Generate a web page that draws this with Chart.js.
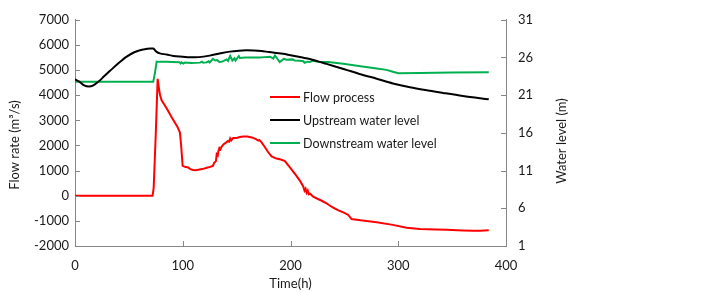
<!DOCTYPE html>
<html>
<head>
<meta charset="utf-8">
<script src="https://cdn.jsdelivr.net/npm/chart.js@4/dist/chart.umd.min.js"></script>
<style>
  html, body { margin: 0; padding: 0; background: #fff; }
</style>
</head>
<body>
<canvas id="chart" width="722" height="292"></canvas>
<script>
// Flow process (m3/s) against time (h)
const flowTime = [0, 72, 73, 75, 76.7, 77.5, 78.2, 79, 80.4, 85, 90, 95, 97.4, 98.5, 99.9, 102, 105, 107, 109.7, 112, 118, 124, 128, 129, 130.8, 131.5, 132.5, 133, 134, 135, 136, 138, 140.7, 142, 143, 144, 145, 146.8, 150, 153, 156, 160, 164, 168, 170, 171, 173, 176, 179, 182.4, 187, 191, 194.8, 200, 205, 209, 211.8, 213, 214, 215, 216, 217, 218, 221, 225, 229, 233.4, 236, 240, 244, 250, 253.6, 256.7, 265, 280, 295, 307.7, 320, 335, 344.8, 360, 369.5, 376, 384];
const flowValues = [0, 0, 300, 2500, 4650, 4400, 4175, 4000, 3797, 3480, 3100, 2750, 2511, 2000, 1188, 1150, 1127, 1060, 1025, 1010, 1060, 1130, 1188, 1300, 1377, 1650, 1600, 1755, 1900, 1850, 1944, 2050, 2133, 2180, 2150, 2280, 2200, 2299, 2300, 2340, 2360, 2355, 2320, 2250, 2197, 2220, 2133, 1950, 1750, 1566, 1479, 1440, 1377, 1100, 820, 580, 370, 200, 280, 117, 200, 60, 90, -34, -120, -200, -300, -380, -480, -575, -680, -764, -930, -980, -1055, -1160, -1270, -1320, -1345, -1358, -1380, -1396, -1390, -1370];

// Upstream water level (m)
const upTime = [0, 4, 8, 13, 17, 21.6, 27, 32.5, 40, 48, 55, 60.3, 66, 70, 72.6, 74, 75.8, 78.8, 85, 91.2, 100, 106.7, 115, 125, 135, 143.8, 152, 159, 166, 173, 180, 187, 193, 200, 210, 218, 225, 233.5, 250, 264, 280, 295, 310.8, 325, 341.6, 360, 384];
const upLevel = [23.1, 22.8, 22.35, 22.14, 22.3, 22.77, 23.5, 24.23, 25.2, 26.12, 26.7, 26.97, 27.12, 27.2, 27.18, 27.0, 26.75, 26.55, 26.4, 26.21, 26.1, 26.02, 26.05, 26.25, 26.55, 26.78, 26.9, 26.95, 26.93, 26.86, 26.72, 26.6, 26.5, 26.3, 26.02, 25.8, 25.52, 25.15, 24.45, 23.82, 23.18, 22.56, 22.05, 21.68, 21.3, 20.9, 20.45];

// Downstream water level (m)
const downTime = [0, 72.6, 74, 75.8, 78, 85, 90, 97, 98, 99, 100.5, 102, 108, 116, 118, 119, 122, 124, 125, 128, 130, 132, 134, 136, 138, 140.7, 142, 144, 146, 148, 149, 152, 153, 158, 165, 171.6, 176, 181, 184, 185.5, 187, 190, 194, 196, 202, 204, 208.7, 212, 213, 216, 218, 221, 225, 235, 249, 265, 280, 289, 295, 300, 320, 350, 384];
const downLevel = [22.8, 22.8, 23.8, 25.45, 25.42, 25.42, 25.4, 25.38, 25.2, 25.35, 25.2, 25.32, 25.26, 25.32, 25.45, 25.3, 25.35, 25.5, 25.35, 25.83, 25.6, 25.65, 25.4, 25.42, 25.55, 25.75, 25.55, 26.2, 25.6, 25.9, 25.6, 26.2, 25.95, 26.0, 26.0, 26.0, 26.05, 26.1, 25.85, 26.25, 26.0, 25.4, 25.85, 25.7, 25.75, 25.6, 25.58, 25.5, 25.3, 25.45, 25.42, 25.58, 25.45, 25.4, 25.17, 24.85, 24.55, 24.36, 24.1, 23.9, 23.95, 24.0, 24.03];

const seriesNames = ['Flow process', 'Upstream water level', 'Downstream water level'];
const leftTitle = 'Flow rate (m³/s)';
const rightTitle = 'Water level (m)';

const FONT = 'Lato';
const AXIS_COLOR = '#868686';
const TEXT_COLOR = '#1a1a1a';

const pts = (xs, ys) => xs.map((x, i) => ({ x: x, y: ys[i] }));
const plain = v => String(v);

// short tick marks pointing into the plot, plus the two vertical axis titles
const innerTicks = {
  id: 'innerTicks',
  afterDraw(chart) {
    const ctx = chart.ctx;
    const a = chart.chartArea;
    ctx.save();
    ctx.strokeStyle = AXIS_COLOR;
    ctx.lineWidth = 1;
    ctx.beginPath();
    chart.scales.x.ticks.forEach(t => {
      const px = Math.round(chart.scales.x.getPixelForValue(t.value)) + 0.5;
      ctx.moveTo(px, a.bottom);
      ctx.lineTo(px, a.bottom - 5);
    });
    chart.scales.y.ticks.forEach(t => {
      const py = Math.round(chart.scales.y.getPixelForValue(t.value)) + 0.5;
      ctx.moveTo(a.left, py);
      ctx.lineTo(a.left + 5, py);
    });
    chart.scales.y1.ticks.forEach(t => {
      const py = Math.round(chart.scales.y1.getPixelForValue(t.value)) + 0.5;
      ctx.moveTo(a.right, py);
      ctx.lineTo(a.right - 5, py);
    });
    ctx.stroke();

    ctx.fillStyle = TEXT_COLOR;
    ctx.font = '13px ' + FONT;
    ctx.textAlign = 'center';
    ctx.textBaseline = 'middle';
    ctx.translate(15, 145);
    ctx.rotate(-Math.PI / 2);
    ctx.fillText(leftTitle, 0, 0);
    ctx.setTransform(1, 0, 0, 1, 0, 0);
    ctx.translate(562, 141);
    ctx.rotate(-Math.PI / 2);
    ctx.fillText(rightTitle, 0, 0);
    ctx.restore();
  }
};

// legend drawn inside the plot area
const lineLegend = {
  id: 'lineLegend',
  afterDatasetsDraw(chart) {
    const ctx = chart.ctx;
    ctx.save();
    ctx.font = '12.5px ' + FONT;
    ctx.textBaseline = 'middle';
    chart.data.datasets.forEach((ds, i) => {
      const y = 97 + i * 23;
      ctx.strokeStyle = ds.borderColor;
      ctx.lineWidth = 2;
      ctx.beginPath();
      ctx.moveTo(270, y);
      ctx.lineTo(300, y);
      ctx.stroke();
      ctx.fillStyle = TEXT_COLOR;
      ctx.fillText(ds.label, 303, y + 1);
    });
    ctx.restore();
  }
};

const baseAxis = {
  grid: { display: false, drawTicks: false },
  border: { display: true, color: AXIS_COLOR, width: 1 },
};

new Chart(document.getElementById('chart'), {
  type: 'line',
  data: {
    datasets: [
      { label: seriesNames[0], data: pts(flowTime, flowValues), yAxisID: 'y',
        borderColor: '#ff0000', borderWidth: 2, pointRadius: 0, tension: 0 },
      { label: seriesNames[1], data: pts(upTime, upLevel), yAxisID: 'y1',
        borderColor: '#000000', borderWidth: 2, pointRadius: 0, cubicInterpolationMode: 'monotone' },
      { label: seriesNames[2], data: pts(downTime, downLevel), yAxisID: 'y1',
        borderColor: '#00b050', borderWidth: 2, pointRadius: 0, tension: 0 }
    ]
  },
  options: {
    responsive: false,
    animation: false,
    devicePixelRatio: 1,
    layout: { padding: { left: 0, top: 8, right: 150, bottom: 0 } },
    plugins: { legend: { display: false }, tooltip: { enabled: false } },
    scales: {
      x: {
        ...baseAxis,
        type: 'linear', min: 0, max: 400,
        ticks: { stepSize: 100, padding: 12, color: TEXT_COLOR, font: { family: FONT, size: 13 }, callback: plain },
        title: { display: true, text: 'Time(h)', color: TEXT_COLOR, font: { family: FONT, size: 13 }, padding: { top: 2, bottom: 0 } },
        afterFit(s) { s.height = 46; }
      },
      y: {
        ...baseAxis,
        position: 'left', min: -2000, max: 7000,
        ticks: { stepSize: 1000, padding: 6, color: TEXT_COLOR, font: { family: FONT, size: 13 }, callback: plain },
        afterFit(s) { s.width = 75; }
      },
      y1: {
        ...baseAxis,
        position: 'right', min: 1, max: 31,
        ticks: { stepSize: 5, padding: 12, color: TEXT_COLOR, font: { family: FONT, size: 13 }, callback: plain },
        afterFit(s) { s.width = 66; }
      }
    }
  },
  plugins: [innerTicks, lineLegend]
});
</script>
</body>
</html>
